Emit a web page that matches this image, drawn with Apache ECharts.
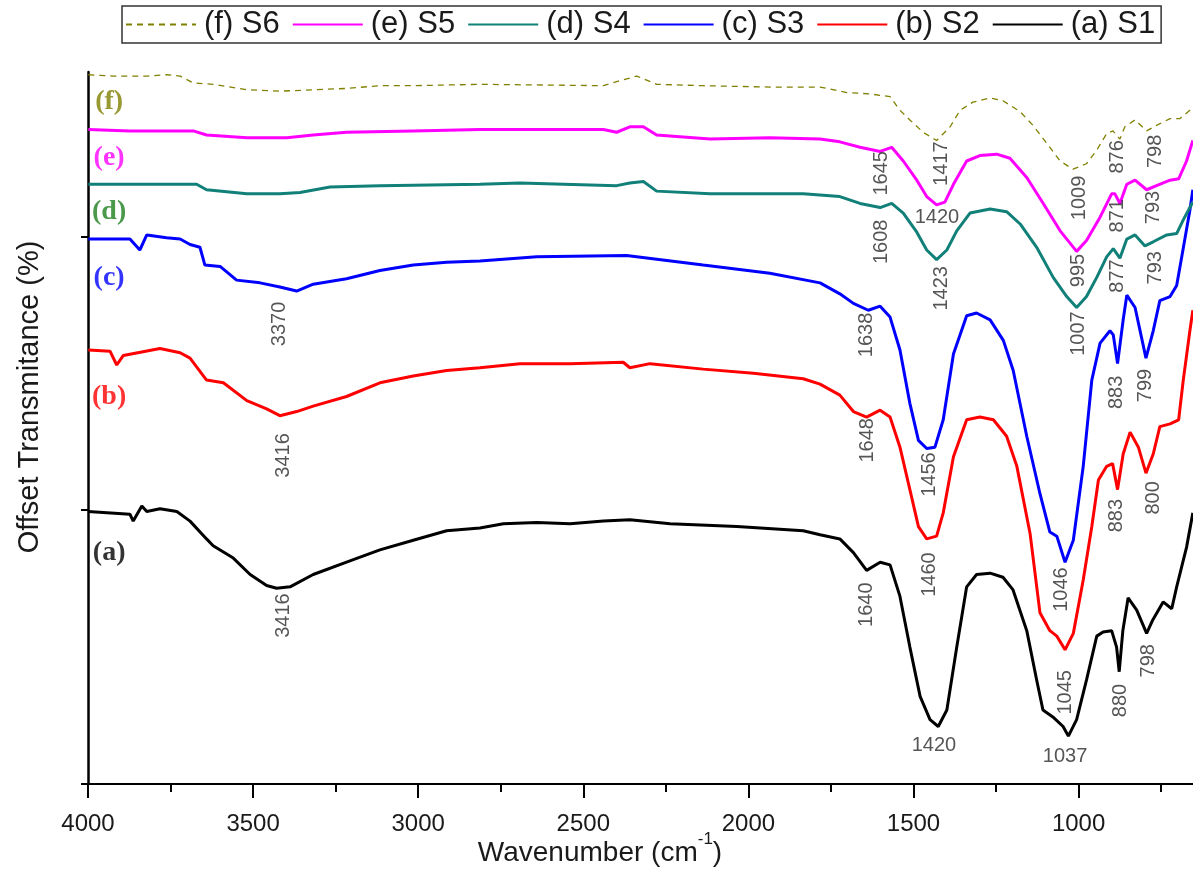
<!DOCTYPE html>
<html><head><meta charset="utf-8">
<script src="https://cdn.jsdelivr.net/npm/echarts@6/dist/echarts.min.js"></script>
<style>html,body{margin:0;padding:0;background:#fff}#c{width:1193px;height:869px}</style>
</head><body><div id="c"></div>
<script>
// ---- data: [wavenumber (cm-1), offset transmittance] ----
const seriesNames = ['(a) S1','(b) S2','(c) S3','(d) S4','(e) S5','(f) S6'];
const legendOrder = ['(f) S6','(e) S5','(d) S4','(c) S3','(b) S2','(a) S1'];

const s1 = [[4000,19.9],[3873,19.7],[3863,19.2],[3837,20.3],[3822,19.9],[3782,20.1],[3731,19.9],[3691,19.2],[3641,17.9],[3621,17.4],[3560,16.5],[3509,15.3],[3459,14.5],[3429,14.3],[3388,14.4],[3318,15.3],[3217,16.2],[3116,17.1],[3015,17.8],[2914,18.5],[2813,18.7],[2742,19.0],[2641,19.1],[2540,19.0],[2439,19.2],[2359,19.3],[2237,19.0],[2035,18.8],[1834,18.5],[1783,18.2],[1723,17.9],[1682,16.9],[1642,15.6],[1601,16.2],[1571,16.0],[1541,13.7],[1511,10.0],[1480,6.4],[1450,4.7],[1425,4.2],[1399,5.4],[1369,10.0],[1339,14.4],[1309,15.3],[1268,15.4],[1229,15.1],[1199,14.2],[1157,11.2],[1127,7.6],[1108,5.4],[1078,4.9],[1047,4.2],[1031,3.5],[1006,4.7],[976,7.6],[945,10.8],[926,11.1],[900,11.2],[885,10.0],[877,8.2],[866,11.2],[850,13.6],[824,12.7],[794,11.0],[775,12.0],[744,13.3],[718,12.8],[703,14.4],[673,17.3],[654,19.8]];
const s2 = [[3999,31.7],[3933,31.6],[3913,30.6],[3893,31.3],[3782,31.8],[3721,31.5],[3691,31.1],[3641,29.5],[3590,29.3],[3519,28.0],[3459,27.4],[3419,26.9],[3368,27.2],[3318,27.6],[3217,28.3],[3116,29.3],[3015,29.8],[2914,30.2],[2813,30.4],[2692,30.7],[2540,30.7],[2379,30.8],[2359,30.4],[2298,30.7],[2137,30.3],[1985,30.0],[1834,29.6],[1783,29.2],[1723,28.4],[1682,27.2],[1642,26.8],[1601,27.3],[1571,26.8],[1541,24.6],[1511,21.5],[1485,18.8],[1460,17.9],[1430,18.1],[1410,19.8],[1379,23.9],[1339,26.6],[1299,26.8],[1258,26.6],[1218,25.4],[1187,23.2],[1147,18.3],[1117,12.5],[1087,11.2],[1066,10.8],[1041,9.8],[1016,11.0],[986,14.9],[960,18.8],[940,22.2],[915,23.2],[897,23.4],[882,21.5],[865,24.1],[844,25.7],[819,24.6],[796,22.7],[774,24.1],[754,26.1],[723,26.3],[697,26.6],[683,29.5],[663,33.1],[654,34.6]];
const s3 = [[3999,39.8],[3873,39.8],[3843,39.0],[3822,40.1],[3762,39.9],[3721,39.8],[3691,39.4],[3661,39.2],[3646,37.9],[3600,37.8],[3550,36.8],[3479,36.6],[3419,36.3],[3368,36.0],[3318,36.5],[3217,36.9],[3116,37.5],[3015,37.9],[2914,38.1],[2813,38.2],[2641,38.5],[2369,38.6],[2137,37.9],[1935,37.3],[1783,36.6],[1723,35.8],[1682,35.1],[1637,34.6],[1601,34.9],[1571,34.1],[1541,31.7],[1511,27.8],[1485,25.1],[1460,24.5],[1435,24.6],[1410,26.6],[1379,31.4],[1339,34.2],[1309,34.4],[1268,33.9],[1228,32.4],[1198,30.2],[1157,25.4],[1117,21.2],[1087,18.4],[1066,18.1],[1041,16.2],[1016,17.8],[986,23.2],[960,29.5],[935,32.2],[905,33.1],[895,32.8],[882,30.7],[865,33.9],[854,35.7],[829,34.8],[796,31.1],[774,33.1],[754,35.3],[723,35.6],[703,36.4],[684,39.0],[663,41.9],[654,43.4]];
const s4 = [[3999,43.8],[3671,43.8],[3641,43.4],[3519,43.1],[3419,43.1],[3358,43.2],[3267,43.6],[3116,43.7],[2813,43.8],[2692,43.9],[2399,43.7],[2359,43.9],[2318,44.0],[2278,43.3],[2116,43.1],[1834,43.1],[1723,42.9],[1662,42.4],[1601,42.1],[1566,42.4],[1531,41.7],[1490,40.3],[1460,39.0],[1430,38.3],[1399,39.0],[1369,40.4],[1329,41.7],[1268,42.0],[1218,41.8],[1177,40.9],[1127,39.2],[1077,37.0],[1036,35.6],[1006,34.8],[976,35.6],[945,37.0],[915,38.5],[895,39.1],[875,38.4],[854,39.8],[829,40.1],[799,39.3],[774,39.6],[733,40.1],[703,40.2],[683,41.2],[663,42.1],[654,42.5]];
const s5 = [[3999,47.8],[3873,47.7],[3681,47.7],[3641,47.4],[3519,47.2],[3459,47.2],[3398,47.2],[3318,47.4],[3217,47.6],[3015,47.7],[2813,47.8],[2439,47.8],[2399,47.6],[2359,48.0],[2318,48.0],[2278,47.4],[2116,47.1],[1935,47.2],[1783,47.1],[1723,46.9],[1662,46.5],[1601,46.2],[1566,46.5],[1531,45.5],[1490,44.1],[1460,42.9],[1430,42.3],[1405,42.5],[1379,43.8],[1339,45.5],[1299,45.9],[1248,46.0],[1208,45.7],[1157,44.3],[1107,42.4],[1056,40.4],[1026,39.5],[1006,38.9],[976,39.7],[935,41.4],[900,43.1],[890,43.1],[875,42.4],[854,43.8],[829,44.1],[794,43.4],[764,43.7],[723,44.1],[697,44.2],[673,45.5],[654,47.0]];
const s6 = [[3999,51.8],[3923,51.7],[3822,51.7],[3762,51.8],[3721,51.7],[3681,51.2],[3621,51.1],[3519,50.7],[3419,50.6],[3318,50.7],[3217,50.8],[3116,51.0],[3015,51.0],[2813,51.1],[2439,51.0],[2399,51.3],[2338,51.7],[2278,51.1],[2137,51.0],[1935,50.9],[1783,50.9],[1702,50.5],[1632,50.4],[1571,50.2],[1541,49.2],[1511,48.5],[1471,47.6],[1430,47.0],[1389,48.0],[1359,49.2],[1320,49.8],[1268,50.1],[1229,49.9],[1177,49.1],[1138,48.1],[1087,46.5],[1056,45.5],[1017,44.9],[976,45.3],[945,46.3],[915,47.5],[896,47.7],[875,47.1],[860,48.0],[829,48.5],[794,47.7],[764,48.1],[723,48.6],[693,48.6],[663,49.2],[654,49.4]];

// peak annotations: text, wavenumber, level, rotation
const peakText   = ['3370','3416','3416','1638','1648','1640','1456','1460','1046','1045','1007','883','799','883','800','880','798','1645','1608','1417','1423','1009','995','876','871','877','798','793','793','1420','1420','1037'];
const peakWave   = [3419,3409,3409,1642,1638,1642,1453,1453,1053,1041,999,884,796,884,772,872,787,1596,1596,1415,1415,996,999,881,881,881,766,772,766,1429,1438,1041];
const peakLevel  = [33.6,24.0,12.3,32.8,25.1,13.1,22.6,15.3,14.2,6.7,32.9,28.6,29.1,19.6,20.9,6.1,9.0,44.6,39.6,45.3,36.2,42.8,37.5,45.8,41.5,37.1,46.2,42.1,37.7,41.4,2.8,2.0];
const peakRotate = [90,90,90,90,90,90,90,90,90,90,90,90,90,90,90,90,90,90,90,90,90,90,90,90,90,90,90,90,90,0,0,0];

// curve letters
const letterText  = ['(f)','(e)','(d)','(c)','(b)','(a)'];
const letterWave  = [3936,3936,3936,3936,3936,3936];
const letterLevel = [49.8,45.7,41.8,37.0,28.3,16.9];

const xTickValues = [500,1000,1500,2000,2500,3000,3500,4000];
const yTickValues = [0,20,40];

// ---- styles ----
const SANS = '"Liberation Sans", Arial, sans-serif';
const SERIF = '"Liberation Serif", "Times New Roman", serif';
const lineColors = {'(a) S1':'#000000','(b) S2':'#ff0000','(c) S3':'#0000ff','(d) S4':'#108078','(e) S5':'#ff00ff','(f) S6':'#808000'};
const letterColors = {'(a)':'#000000','(b)':'#ff0000','(c)':'#0000ff','(d)':'#1e801e','(e)':'#ff00ff','(f)':'#808000'};
const seriesData = [s1,s2,s3,s4,s5,s6];

const lineSeries = seriesNames.map((n,i)=>({
  type:'line', name:n, data:seriesData[i], showSymbol:false, symbol:'none',
  silent:true, z: 3,
  lineStyle: n==='(f) S6' ? {color:lineColors[n], width:1.3, type:[6,5]} : {color:lineColors[n], width:3},
  itemStyle:{color:lineColors[n]}
}));

const peakSeries = {
  type:'scatter', silent:true, z:5, symbolSize:1,
  itemStyle:{color:'rgba(0,0,0,0)'},
  data: peakText.map((t,i)=>({name:t, value:[peakWave[i], peakLevel[i]], label:{rotate:peakRotate[i]}})),
  label:{show:true, position:'inside', formatter:p=>p.name, fontSize:20, fontFamily:SANS, color:'#2a2a2a', align:'center', verticalAlign:'middle'}
};
const letterSeries = {
  type:'scatter', silent:true, z:5, symbolSize:1,
  itemStyle:{color:'rgba(0,0,0,0)'},
  data: letterText.map((t,i)=>({name:t, value:[letterWave[i], letterLevel[i]], label:{color:letterColors[t]}})),
  label:{show:true, position:'inside', formatter:p=>p.name, fontSize:28, fontWeight:'bold', fontFamily:SERIF, align:'center', verticalAlign:'middle'}
};

const chart = echarts.init(document.getElementById('c'), null, {renderer:'canvas'});
chart.setOption({
  animation:false,
  backgroundColor:'#ffffff',
  textStyle:{fontFamily:SANS},
  grid:{left:88, top:72, width:1155.7, height:712, containLabel:false, outerBoundsMode:'none'},
  legend:{
    data:legendOrder, left:122, top:6, orient:'horizontal',
    itemWidth:70, itemHeight:14, itemGap:12,
    itemStyle:{opacity:0},
    padding:[3,6,3,3], borderColor:'#333', borderWidth:1.5,
    textStyle:{fontSize:31, color:'#1a1a1a', fontFamily:SANS, padding:[0,0,0,3]},
    selectedMode:false
  },
  xAxis:{
    type:'value', min:xTickValues[0], max:xTickValues[xTickValues.length-1], interval:500, inverse:true,
    axisLine:{show:true, onZero:false, lineStyle:{color:'#000', width:2}},
    axisTick:{show:true, length:14, lineStyle:{color:'#000', width:2}},
    minorTick:{show:true, splitNumber:2, length:8, lineStyle:{color:'#000', width:2}},
    axisLabel:{fontSize:24, color:'#1a1a1a', margin:28, fontFamily:SANS, formatter:v=>String(v)},
    splitLine:{show:false}, minorSplitLine:{show:false}
  },
  yAxis:{
    type:'value', min:0, max:52, interval:20,
    axisLine:{show:true, onZero:false, lineStyle:{color:'#000', width:2.5}},
    axisTick:{show:true, length:7, customValues:yTickValues, lineStyle:{color:'#000', width:2}},
    axisLabel:{show:false}, splitLine:{show:false}
  },
  graphic:[
    {type:'text', x:600, y:853, silent:true, style:{
      text:'{a|Wavenumber (cm}{s|-1}{a|)}', align:'center', verticalAlign:'middle',
      rich:{a:{fontSize:28, fontFamily:SANS, fill:'#1a1a1a', lineHeight:44}, s:{fontSize:17, fontFamily:SANS, fill:'#1a1a1a', lineHeight:12, verticalAlign:'top'}}
    }},
    {type:'text', x:30, y:397, rotation:Math.PI/2, silent:true, style:{
      text:'Offset Transmitance (%)', fontSize:29, fontFamily:SANS, fill:'#1a1a1a', align:'center', verticalAlign:'middle'
    }}
  ],
  series:[...lineSeries, peakSeries, letterSeries]
});
</script></body></html>
